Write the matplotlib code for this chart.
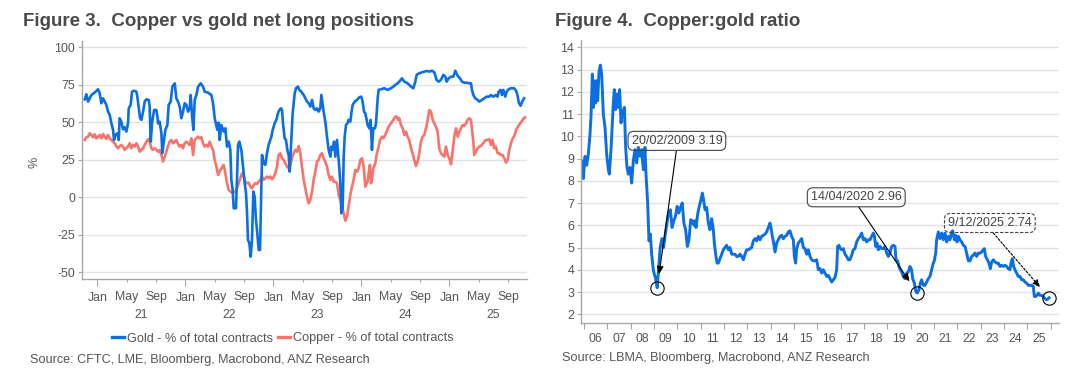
import matplotlib
matplotlib.use('Agg')
import matplotlib.pyplot as plt
from matplotlib.lines import Line2D

plt.rcParams['font.family'] = ['Liberation Sans', 'DejaVu Sans']
plt.rcParams['axes.unicode_minus'] = False

# ---------------- data: Figure 3 (decimal-year dates, % of total contracts) ----------------
gold_dates = [
    2020.857, 2020.876, 2020.895, 2020.914, 2020.933, 2020.970, 2021.008, 2021.027, 2021.046, 2021.065,
    2021.084, 2021.103, 2021.122, 2021.141, 2021.160, 2021.179, 2021.190, 2021.205, 2021.228, 2021.243,
    2021.254, 2021.273, 2021.292, 2021.311, 2021.330, 2021.349, 2021.357, 2021.379, 2021.395, 2021.417,
    2021.444, 2021.455, 2021.470, 2021.486, 2021.501, 2021.520, 2021.539, 2021.558, 2021.584, 2021.595,
    2021.607, 2021.622, 2021.645, 2021.671, 2021.683, 2021.690, 2021.709, 2021.728, 2021.739, 2021.754,
    2021.773, 2021.796, 2021.811, 2021.834, 2021.853, 2021.880, 2021.898, 2021.917, 2021.936, 2021.955,
    2021.974, 2021.993, 2022.012, 2022.031, 2022.050, 2022.061, 2022.076, 2022.092, 2022.107, 2022.126,
    2022.145, 2022.175, 2022.201, 2022.220, 2022.258, 2022.296, 2022.315, 2022.334, 2022.364, 2022.380,
    2022.391, 2022.410, 2022.436, 2022.455, 2022.474, 2022.493, 2022.512, 2022.523, 2022.538, 2022.550,
    2022.576, 2022.587, 2022.599, 2022.614, 2022.637, 2022.652, 2022.675, 2022.690, 2022.701, 2022.712,
    2022.728, 2022.743, 2022.758, 2022.773, 2022.788, 2022.803, 2022.818, 2022.834, 2022.849, 2022.860,
    2022.872, 2022.890, 2022.909, 2022.928, 2022.947, 2022.978, 2022.993, 2023.015, 2023.034, 2023.053,
    2023.069, 2023.087, 2023.099, 2023.110, 2023.129, 2023.144, 2023.159, 2023.175, 2023.186, 2023.205,
    2023.220, 2023.243, 2023.258, 2023.281, 2023.296, 2023.318, 2023.345, 2023.364, 2023.383, 2023.402,
    2023.421, 2023.440, 2023.459, 2023.478, 2023.497, 2023.515, 2023.534, 2023.546, 2023.561, 2023.572,
    2023.591, 2023.610, 2023.629, 2023.648, 2023.659, 2023.675, 2023.690, 2023.705, 2023.724, 2023.743,
    2023.762, 2023.773, 2023.788, 2023.800, 2023.811, 2023.826, 2023.841, 2023.856, 2023.875, 2023.887,
    2023.902, 2023.925, 2023.951, 2023.978, 2024.000, 2024.015, 2024.031, 2024.046, 2024.072, 2024.091,
    2024.106, 2024.121, 2024.136, 2024.155, 2024.167, 2024.186, 2024.197, 2024.223, 2024.261, 2024.299,
    2024.337, 2024.364, 2024.386, 2024.413, 2024.432, 2024.462, 2024.489, 2024.526, 2024.564, 2024.591,
    2024.614, 2024.629, 2024.659, 2024.689, 2024.716, 2024.742, 2024.773, 2024.803, 2024.830, 2024.856,
    2024.879, 2024.905, 2024.932, 2024.955, 2024.970, 2024.992, 2025.019, 2025.045, 2025.068, 2025.095,
    2025.121, 2025.144, 2025.170, 2025.197, 2025.220, 2025.246, 2025.258, 2025.273, 2025.295, 2025.322,
    2025.341, 2025.371, 2025.398, 2025.424, 2025.455, 2025.473, 2025.500, 2025.530, 2025.549, 2025.561,
    2025.583, 2025.598, 2025.614, 2025.636, 2025.652, 2025.674, 2025.701, 2025.735, 2025.760, 2025.775,
    2025.790, 2025.810, 2025.830, 2025.850,
]
gold_values = [
    65.3, 68.7, 63.8, 66.0, 68.2, 69.8, 72.0, 69.3, 62.7, 66.0,
    63.8, 61.6, 57.1, 54.9, 49.3, 44.9, 38.2, 41.6, 42.7, 38.2,
    52.7, 50.4, 45.3, 46.7, 43.8, 49.3, 59.3, 61.6, 70.4, 71.1,
    70.4, 67.1, 60.4, 52.7, 51.6, 57.1, 63.8, 65.3, 64.9, 60.4,
    37.1, 49.3, 58.2, 58.2, 53.8, 49.3, 50.4, 42.7, 29.3, 36.0,
    44.9, 48.2, 61.6, 63.8, 73.8, 76.0, 66.0, 63.8, 60.4, 52.7,
    57.1, 62.7, 61.6, 57.1, 59.3, 68.2, 54.9, 44.9, 64.9, 68.2,
    73.8, 76.0, 73.8, 70.4, 69.8, 68.2, 62.7, 52.7, 44.9, 49.8,
    38.2, 48.2, 43.8, 46.0, 33.8, 37.1, 31.6, 11.6, 4.9, -7.3,
    -7.3, 11.6, 34.9, 37.1, 31.6, 22.7, 9.3, 2.7, -9.6, -28.4,
    -30.7, -39.6, -28.4, 3.8, 0.4, -15.1, -24.0, -35.1, -35.1, -4.0,
    28.2, 22.7, 21.6, 29.3, 34.9, 40.4, 44.9, 49.3, 51.6, 56.0,
    58.2, 59.3, 58.2, 49.3, 39.3, 38.2, 31.6, 28.2, 17.1, 38.2,
    56.0, 69.3, 72.7, 73.8, 71.6, 70.4, 68.2, 66.0, 63.8, 62.7,
    60.4, 64.9, 59.3, 58.2, 59.3, 57.1, 59.3, 68.2, 61.6, 57.1,
    50.4, 40.4, 31.6, 27.1, 33.8, 31.6, 37.1, 27.1, 38.2, 24.9,
    9.3, -10.7, -7.3, 27.1, 40.4, 48.2, 49.3, 51.6, 50.4, 56.0,
    61.6, 63.8, 64.9, 66.7, 67.1, 63.8, 57.1, 56.0, 48.2, 46.0,
    51.6, 31.6, 46.0, 46.0, 49.3, 66.0, 71.6, 72.0, 72.7, 71.6,
    72.7, 73.8, 74.9, 76.0, 77.1, 79.3, 77.1, 76.0, 73.8, 72.7,
    77.1, 81.6, 82.7, 83.3, 83.8, 84.2, 83.8, 84.4, 83.3, 78.2,
    77.1, 78.2, 81.6, 80.4, 77.1, 79.3, 80.4, 80.4, 84.4, 80.9,
    79.3, 77.1, 76.4, 76.4, 76.0, 76.0, 71.6, 68.2, 66.0, 64.9,
    63.8, 64.9, 66.0, 67.1, 67.1, 68.2, 67.1, 68.2, 67.1, 70.4,
    71.6, 68.2, 71.6, 67.1, 70.4, 72.0, 72.7, 72.7, 71.0, 68.0,
    63.0, 61.0, 64.0, 66.0,
]

copper_dates = [
    2020.857, 2020.876, 2020.895, 2020.914, 2020.933, 2020.951, 2020.970, 2020.989, 2021.008, 2021.027,
    2021.046, 2021.065, 2021.084, 2021.103, 2021.122, 2021.141, 2021.160, 2021.179, 2021.198, 2021.217,
    2021.235, 2021.254, 2021.273, 2021.292, 2021.311, 2021.330, 2021.349, 2021.368, 2021.387, 2021.406,
    2021.425, 2021.444, 2021.463, 2021.482, 2021.501, 2021.520, 2021.539, 2021.558, 2021.577, 2021.595,
    2021.614, 2021.633, 2021.652, 2021.671, 2021.690, 2021.709, 2021.728, 2021.747, 2021.766, 2021.785,
    2021.804, 2021.823, 2021.842, 2021.861, 2021.880, 2021.898, 2021.917, 2021.936, 2021.955, 2021.974,
    2021.993, 2022.012, 2022.031, 2022.050, 2022.069, 2022.088, 2022.107, 2022.126, 2022.145, 2022.164,
    2022.183, 2022.201, 2022.220, 2022.239, 2022.258, 2022.277, 2022.296, 2022.315, 2022.334, 2022.353,
    2022.372, 2022.391, 2022.410, 2022.436, 2022.455, 2022.474, 2022.493, 2022.512, 2022.530, 2022.550,
    2022.568, 2022.587, 2022.606, 2022.625, 2022.644, 2022.663, 2022.682, 2022.701, 2022.720, 2022.739,
    2022.758, 2022.777, 2022.796, 2022.815, 2022.834, 2022.853, 2022.872, 2022.890, 2022.909, 2022.928,
    2022.947, 2022.966, 2022.985, 2023.004, 2023.023, 2023.042, 2023.061, 2023.080, 2023.099, 2023.118,
    2023.137, 2023.156, 2023.175, 2023.194, 2023.212, 2023.231, 2023.250, 2023.269, 2023.288, 2023.307,
    2023.326, 2023.345, 2023.364, 2023.383, 2023.402, 2023.421, 2023.440, 2023.459, 2023.478, 2023.497,
    2023.515, 2023.534, 2023.553, 2023.572, 2023.591, 2023.610, 2023.629, 2023.648, 2023.667, 2023.686,
    2023.705, 2023.724, 2023.743, 2023.762, 2023.781, 2023.800, 2023.818, 2023.837, 2023.856, 2023.875,
    2023.894, 2023.913, 2023.932, 2023.951, 2023.970, 2023.989, 2024.008, 2024.027, 2024.046, 2024.072,
    2024.083, 2024.098, 2024.110, 2024.121, 2024.136, 2024.159, 2024.174, 2024.197, 2024.212, 2024.235,
    2024.250, 2024.273, 2024.288, 2024.311, 2024.337, 2024.364, 2024.386, 2024.402, 2024.417, 2024.432,
    2024.451, 2024.470, 2024.489, 2024.508, 2024.526, 2024.545, 2024.564, 2024.583, 2024.602, 2024.621,
    2024.640, 2024.659, 2024.678, 2024.697, 2024.716, 2024.735, 2024.754, 2024.773, 2024.792, 2024.811,
    2024.830, 2024.848, 2024.867, 2024.886, 2024.905, 2024.924, 2024.943, 2024.962, 2024.981, 2025.000,
    2025.019, 2025.038, 2025.057, 2025.076, 2025.095, 2025.114, 2025.133, 2025.152, 2025.170, 2025.189,
    2025.208, 2025.227, 2025.246, 2025.258, 2025.273, 2025.284, 2025.303, 2025.322, 2025.341, 2025.360,
    2025.379, 2025.398, 2025.417, 2025.436, 2025.455, 2025.473, 2025.492, 2025.511, 2025.530, 2025.549,
    2025.568, 2025.587, 2025.606, 2025.625, 2025.644, 2025.663, 2025.682, 2025.701, 2025.720, 2025.740,
    2025.760, 2025.790, 2025.820, 2025.845, 2025.860,
]
copper_values = [
    38.2, 40.0, 40.4, 42.7, 41.6, 40.0, 42.0, 39.3, 40.4, 41.6,
    39.3, 42.2, 40.4, 38.9, 41.6, 39.3, 38.2, 37.1, 36.0, 33.8,
    32.7, 34.2, 34.9, 33.8, 31.6, 32.7, 33.8, 36.0, 32.7, 34.9,
    33.8, 36.0, 33.8, 30.4, 31.6, 32.7, 34.9, 37.1, 38.7, 37.1,
    32.7, 31.6, 32.7, 31.6, 30.4, 31.6, 28.2, 23.8, 27.1, 30.4,
    34.2, 37.1, 38.2, 36.0, 37.1, 38.2, 35.6, 33.8, 34.9, 32.7,
    36.0, 37.1, 36.0, 34.9, 39.3, 28.2, 38.2, 39.3, 40.4, 39.3,
    40.0, 36.0, 33.8, 34.9, 33.8, 37.1, 33.8, 31.6, 24.9, 20.4,
    14.9, 17.1, 19.3, 21.6, 16.0, 9.3, 4.9, 3.8, 3.1, 3.1,
    3.8, 6.0, 9.3, 12.7, 16.0, 13.8, 10.4, 9.3, 9.8, 7.1,
    6.0, 8.2, 9.3, 8.9, 10.4, 11.6, 13.8, 11.6, 12.7, 13.8,
    12.7, 13.8, 12.0, 13.3, 16.0, 20.4, 28.2, 29.3, 26.0, 24.9,
    22.7, 20.4, 19.3, 21.6, 26.0, 29.3, 31.6, 30.4, 34.2, 29.3,
    20.4, 11.6, 6.0, 0.4, -4.0, -1.8, 3.8, 11.6, 17.1, 23.8,
    24.9, 28.2, 29.3, 26.0, 23.8, 20.4, 14.9, 11.6, 13.8, 10.4,
    10.4, 9.3, 1.6, -1.8, -6.2, -10.7, -15.6, -12.9, -6.2, 1.6,
    7.1, 11.6, 18.2, 17.1, 19.3, 24.9, 26.0, 20.4, 7.1, 10.4,
    16.0, 21.6, 9.3, 11.6, 19.3, 22.7, 28.2, 33.8, 38.2, 40.4,
    39.3, 41.6, 43.8, 47.1, 49.3, 51.6, 53.8, 53.8, 51.6, 52.7,
    48.2, 46.0, 41.6, 43.8, 40.4, 38.2, 32.7, 29.3, 24.9, 20.9,
    23.8, 29.3, 37.1, 40.4, 41.6, 46.0, 51.6, 58.2, 57.1, 51.6,
    49.3, 47.1, 43.8, 32.7, 29.3, 28.2, 27.1, 33.8, 28.2, 26.0,
    22.0, 30.4, 40.4, 46.0, 40.4, 43.8, 46.0, 48.2, 47.6, 49.3,
    51.6, 52.7, 51.6, 44.9, 37.1, 28.2, 30.4, 32.7, 33.8, 34.2,
    35.6, 37.1, 38.2, 38.2, 38.7, 34.9, 38.2, 32.7, 33.8, 29.3,
    29.3, 28.2, 28.2, 26.0, 23.1, 24.9, 31.6, 36.0, 39.3, 41.0,
    45.0, 48.0, 50.5, 52.5, 53.3,
]

fig3_yticks = [-50, -25, 0, 25, 50, 75, 100]
fig3_years = [2021, 2022, 2023, 2024, 2025]
fig3_year_labels = ['21', '22', '23', '24', '25']
fig3_month_labels = ['Jan', 'May', 'Sep']

# ---------------- data: Figure 4 (copper:gold ratio) ----------------
ratio_dates = [
    2005.871, 2005.928, 2005.971, 2006.043, 2006.114, 2006.185, 2006.257, 2006.300, 2006.357, 2006.400,
    2006.443, 2006.500, 2006.543, 2006.585, 2006.643, 2006.700, 2006.757, 2006.828, 2006.900, 2006.971,
    2007.043, 2007.085, 2007.157, 2007.214, 2007.257, 2007.300, 2007.357, 2007.414, 2007.471, 2007.528,
    2007.585, 2007.643, 2007.728, 2007.785, 2007.843, 2007.900, 2007.971, 2008.043, 2008.114, 2008.185,
    2008.257, 2008.328, 2008.400, 2008.471, 2008.543, 2008.614, 2008.657, 2008.728, 2008.785, 2008.843,
    2008.900, 2008.971, 2009.014, 2009.071, 2009.137, 2009.194, 2009.266, 2009.339, 2009.411, 2009.484,
    2009.557, 2009.629, 2009.702, 2009.774, 2009.847, 2009.920, 2009.992, 2010.065, 2010.137, 2010.210,
    2010.282, 2010.355, 2010.428, 2010.500, 2010.573, 2010.645, 2010.718, 2010.758, 2010.801, 2010.872,
    2010.929, 2011.001, 2011.072, 2011.115, 2011.187, 2011.258, 2011.329, 2011.401, 2011.472, 2011.544,
    2011.587, 2011.644, 2011.701, 2011.758, 2011.830, 2011.901, 2011.972, 2012.044, 2012.115, 2012.187,
    2012.258, 2012.329, 2012.401, 2012.472, 2012.544, 2012.615, 2012.687, 2012.758, 2012.830, 2012.901,
    2012.972, 2013.044, 2013.115, 2013.187, 2013.258, 2013.329, 2013.401, 2013.472, 2013.544, 2013.615,
    2013.687, 2013.758, 2013.830, 2013.901, 2013.972, 2014.015, 2014.072, 2014.129, 2014.187, 2014.258,
    2014.329, 2014.401, 2014.472, 2014.544, 2014.615, 2014.687, 2014.758, 2014.829, 2014.901, 2014.972,
    2015.015, 2015.072, 2015.115, 2015.187, 2015.258, 2015.329, 2015.401, 2015.472, 2015.544, 2015.615,
    2015.687, 2015.758, 2015.829, 2015.901, 2015.972, 2016.044, 2016.115, 2016.187, 2016.258, 2016.330,
    2016.401, 2016.472, 2016.544, 2016.615, 2016.687, 2016.758, 2016.830, 2016.872, 2016.930, 2016.987,
    2017.044, 2017.115, 2017.187, 2017.258, 2017.330, 2017.401, 2017.472, 2017.544, 2017.615, 2017.687,
    2017.758, 2017.830, 2017.901, 2017.972, 2018.044, 2018.115, 2018.187, 2018.258, 2018.330, 2018.401,
    2018.444, 2018.501, 2018.558, 2018.615, 2018.687, 2018.758, 2018.830, 2018.901, 2018.972, 2019.044,
    2019.115, 2019.187, 2019.258, 2019.330, 2019.373, 2019.444, 2019.501, 2019.558, 2019.615, 2019.687,
    2019.758, 2019.830, 2019.901, 2019.972, 2020.044, 2020.087, 2020.144, 2020.187, 2020.230, 2020.284,
    2020.330, 2020.359, 2020.415, 2020.473, 2020.544, 2020.615, 2020.687, 2020.758, 2020.830, 2020.901,
    2020.972, 2021.015, 2021.074, 2021.116, 2021.188, 2021.259, 2021.331, 2021.402, 2021.474, 2021.545,
    2021.616, 2021.688, 2021.759, 2021.802, 2021.874, 2021.931, 2021.988, 2022.045, 2022.116, 2022.188,
    2022.259, 2022.331, 2022.402, 2022.474, 2022.545, 2022.616, 2022.688, 2022.759, 2022.831, 2022.902,
    2022.974, 2023.045, 2023.116, 2023.159, 2023.216, 2023.288, 2023.359, 2023.416, 2023.474, 2023.545,
    2023.616, 2023.688, 2023.759, 2023.831, 2023.902, 2023.974, 2024.045, 2024.116, 2024.188, 2024.259,
    2024.302, 2024.359, 2024.416, 2024.474, 2024.545, 2024.616, 2024.688, 2024.759, 2024.831, 2024.902,
    2024.974, 2025.045, 2025.116, 2025.188, 2025.259, 2025.302, 2025.359, 2025.416, 2025.474, 2025.545,
    2025.616, 2025.688, 2025.759, 2025.831, 2025.902, 2025.937,
]
ratio_values = [
    8.3, 8.9, 8.1, 9.1, 8.7, 9.2, 10.1, 10.9, 12.8, 11.3,
    12.5, 11.5, 12.5, 11.6, 12.9, 13.2, 12.8, 11.0, 10.4, 9.2,
    8.5, 8.3, 9.4, 10.6, 11.5, 12.1, 11.2, 11.9, 11.3, 12.1,
    10.6, 11.0, 11.3, 9.5, 8.6, 8.3, 8.6, 7.9, 8.9, 9.4,
    8.8, 9.5, 9.1, 9.4, 8.5, 9.5, 8.3, 7.0, 5.3, 5.6,
    4.7, 4.0, 3.8, 3.6, 3.19, 4.0, 5.0, 5.4, 5.0, 5.6,
    6.1, 6.6, 6.7, 5.9, 6.2, 6.4, 6.85, 6.55, 6.8, 7.0,
    6.1, 5.8, 5.05, 5.35, 6.25, 6.2, 6.0, 6.2, 5.9, 6.5,
    6.8, 7.1, 7.45, 7.2, 6.7, 6.8, 6.1, 5.8, 6.3, 5.8,
    5.2, 4.7, 4.3, 4.3, 4.5, 4.7, 4.9, 5.0, 5.1, 4.9,
    5.0, 4.7, 4.7, 4.7, 4.6, 4.6, 4.7, 4.6, 4.45, 4.7,
    4.9, 4.9, 4.95, 5.0, 5.3, 5.4, 5.3, 5.5, 5.35, 5.5,
    5.55, 5.6, 5.7, 5.9, 6.1, 5.9, 5.5, 5.2, 4.8, 5.2,
    5.35, 5.5, 5.55, 5.4, 5.5, 5.55, 5.7, 5.75, 5.5, 5.35,
    4.6, 4.3, 4.95, 5.2, 5.3, 5.4, 5.0, 4.95, 4.7, 4.9,
    4.6, 4.45, 4.4, 4.4, 4.45, 4.0, 4.05, 3.85, 4.0, 3.85,
    3.7, 3.75, 3.6, 3.45, 3.55, 3.65, 4.0, 5.05, 5.1, 4.95,
    4.9, 4.95, 4.7, 4.6, 4.45, 4.45, 4.65, 4.9, 4.95, 5.25,
    5.4, 5.5, 5.65, 5.35, 5.4, 5.25, 5.35, 5.35, 5.5, 5.65,
    5.55, 5.05, 5.2, 4.9, 5.05, 4.95, 4.95, 5.05, 4.75, 4.6,
    4.75, 5.05, 5.1, 5.05, 4.45, 4.4, 4.15, 4.0, 3.9, 3.7,
    3.6, 3.85, 3.9, 4.15, 4.0, 3.6, 3.45, 3.25, 3.0, 2.96,
    3.05, 3.1, 3.4, 3.55, 3.3, 3.3, 3.45, 3.6, 3.7, 4.0,
    4.3, 4.4, 4.75, 5.35, 5.7, 5.4, 5.65, 5.35, 5.65, 5.25,
    5.5, 5.35, 5.7, 5.75, 5.35, 5.55, 5.25, 5.5, 5.35, 5.25,
    5.1, 5.05, 4.75, 4.4, 4.4, 4.6, 4.65, 4.75, 4.6, 4.75,
    4.75, 4.8, 4.9, 4.95, 4.6, 4.45, 4.3, 4.05, 4.35, 4.45,
    4.35, 4.3, 4.3, 4.15, 4.2, 4.15, 4.2, 4.15, 4.05, 4.0,
    4.3, 4.5, 4.15, 4.0, 3.85, 3.7, 3.7, 3.55, 3.55, 3.45,
    3.4, 3.3, 3.3, 3.3, 3.25, 2.8, 2.8, 2.85, 2.95, 2.85,
    2.85, 2.8, 2.7, 2.65, 2.7, 2.74,
]

fig4_yticks = list(range(2, 15))
fig4_years = list(range(2006, 2026))
fig4_year_labels = ['%02d' % (y % 100) for y in fig4_years]

ann_dates = [2009.137, 2020.284, 2025.937]
ann_values = [3.19, 2.96, 2.74]
ann_labels = ['20/02/2009 3.19', '14/04/2020 2.96', '9/12/2025 2.74']

# ---------------- style ----------------
BLUE = '#0B6FE3'
RED = '#F7736B'
GRID = '#DFE4EA'
SPINE = '#A8A8A8'
TXT = '#555555'
TITLE = '#4A4A4A'
W, H = 1071, 376

fig = plt.figure(figsize=(W / 100, H / 100), dpi=100)
fig.patch.set_facecolor('white')


def style_axes(ax):
    for s in ('top', 'right'):
        ax.spines[s].set_visible(False)
    for s in ('left', 'bottom'):
        ax.spines[s].set_color(SPINE)
        ax.spines[s].set_linewidth(1.0)
    ax.grid(axis='y', color=GRID, lw=1.0)
    ax.set_axisbelow(True)
    ax.tick_params(axis='y', length=3, width=0.8, color=SPINE, pad=2,
                   labelsize=8.9, labelcolor=TXT)


# ---------------- Figure 3 ----------------
ax1 = fig.add_axes([82 / W, 1 - 279.3 / H, (527 - 82) / W, (279.3 - 41) / H])
style_axes(ax1)
ax1.plot(copper_dates, copper_values, color=RED, lw=1.9, solid_joinstyle='round')
ax1.plot(gold_dates, gold_values, color=BLUE, lw=1.9, solid_joinstyle='round')
ax1.set_ylim(-54.7, 104.2)
ax1.set_xlim(2020.826, 2025.883)
ax1.set_yticks(fig3_yticks)

major_x = list(fig3_years)
minor_x = [y + m / 12 for y in fig3_years for m in (4, 8)]
minor_lab = [fig3_month_labels[k] for _ in fig3_years for k in (1, 2)]
ax1.set_xticks(major_x, labels=[fig3_month_labels[0]] * len(major_x))
ax1.set_xticks(minor_x, labels=minor_lab, minor=True)
ax1.tick_params(axis='x', which='major', length=5, width=0.8, color=SPINE, pad=4.3,
                labelsize=8.8, labelcolor=TXT)
ax1.tick_params(axis='x', which='minor', length=2, width=0.8, color=SPINE, pad=6.6,
                labelsize=8.8, labelcolor=TXT)
for y, lab in zip(fig3_years, fig3_year_labels):
    ax1.text(y + 0.5, -0.150, lab, transform=ax1.get_xaxis_transform(),
             ha='center', va='center', fontsize=8.8, color=TXT)

fig.text(34.4 / W, 1 - 162 / H, '%', rotation=90, ha='center', va='center',
         fontsize=9, color=TXT)

handles = [Line2D([], [], color=BLUE, lw=2.4), Line2D([], [], color=RED, lw=2.4)]
fig.legend(handles, ['Gold - % of total contracts', 'Copper - % of total contracts'],
           loc='center', bbox_to_anchor=(282.7 / W, 1 - 338.5 / H), ncol=2, frameon=False,
           fontsize=9.1, labelcolor=TXT, handlelength=0.95, handletextpad=0.2,
           columnspacing=0.45, borderpad=0, borderaxespad=0)

fig.text(23 / W, 1 - 21.3 / H, 'Figure 3.  Copper vs gold net long positions',
         fontsize=13.5, fontweight='bold', color=TITLE, ha='left', va='center')
fig.text(30 / W, 1 - 360 / H, 'Source: CFTC, LME, Bloomberg, Macrobond, ANZ Research',
         fontsize=9.1, color=TXT, ha='left', va='center')

# ---------------- Figure 4 ----------------
ax2 = fig.add_axes([581 / W, 1 - 322.7 / H, (1059 - 581) / W, (322.7 - 40) / H])
style_axes(ax2)
ax2.plot(ratio_dates, ratio_values, color=BLUE, lw=2.1, solid_joinstyle='round')
ax2.set_ylim(1.62, 14.33)
ax2.set_xlim(2005.871, 2026.36)
ax2.set_yticks(fig4_yticks)
ax2.set_xticks(fig4_years + [2026], labels=[''] * (len(fig4_years) + 1))
ax2.set_xticks([y + 0.5 for y in fig4_years], labels=fig4_year_labels, minor=True)
ax2.tick_params(axis='x', which='major', length=4, width=0.8, color=SPINE)
ax2.tick_params(axis='x', which='minor', length=0, pad=7.2, labelsize=8.8, labelcolor=TXT)

# annotation circles and labelled arrows
ax2.plot(ann_dates, ann_values, 'o', ms=9.6, mfc='none', mec='black', mew=0.8, zorder=5)
offsets = [(19.7, 146.9), (-61.0, 95.6), (-59.3, 74.8)]
edge_styles = ['-', '-', (0, (3, 1.5))]
arrow_styles = ['-', '-', (0, (2, 1.5))]
for d, v, lab, off, es, ls in zip(ann_dates, ann_values, ann_labels, offsets,
                                  edge_styles, arrow_styles):
    ax2.annotate(lab, xy=(d, v), xytext=off, textcoords='offset pixels',
                 ha='center', va='center', fontsize=9, color='#444444', zorder=6,
                 bbox=dict(boxstyle='round,pad=0.28,rounding_size=0.45', fc='none',
                           ec='#444444', lw=0.8, ls=es),
                 arrowprops=dict(arrowstyle='-|>,head_length=0.5,head_width=0.22',
                                 color='black', lw=0.8, ls=ls, shrinkA=0, shrinkB=10,
                                 relpos=(0.5, 0)))

fig.text(555 / W, 1 - 21.3 / H, 'Figure 4.  Copper:gold ratio',
         fontsize=13.5, fontweight='bold', color=TITLE, ha='left', va='center')
fig.text(562 / W, 1 - 358.5 / H, 'Source: LBMA, Bloomberg, Macrobond, ANZ Research',
         fontsize=9.1, color=TXT, ha='left', va='center')

fig.savefig('out.png', dpi=100, facecolor='white')
